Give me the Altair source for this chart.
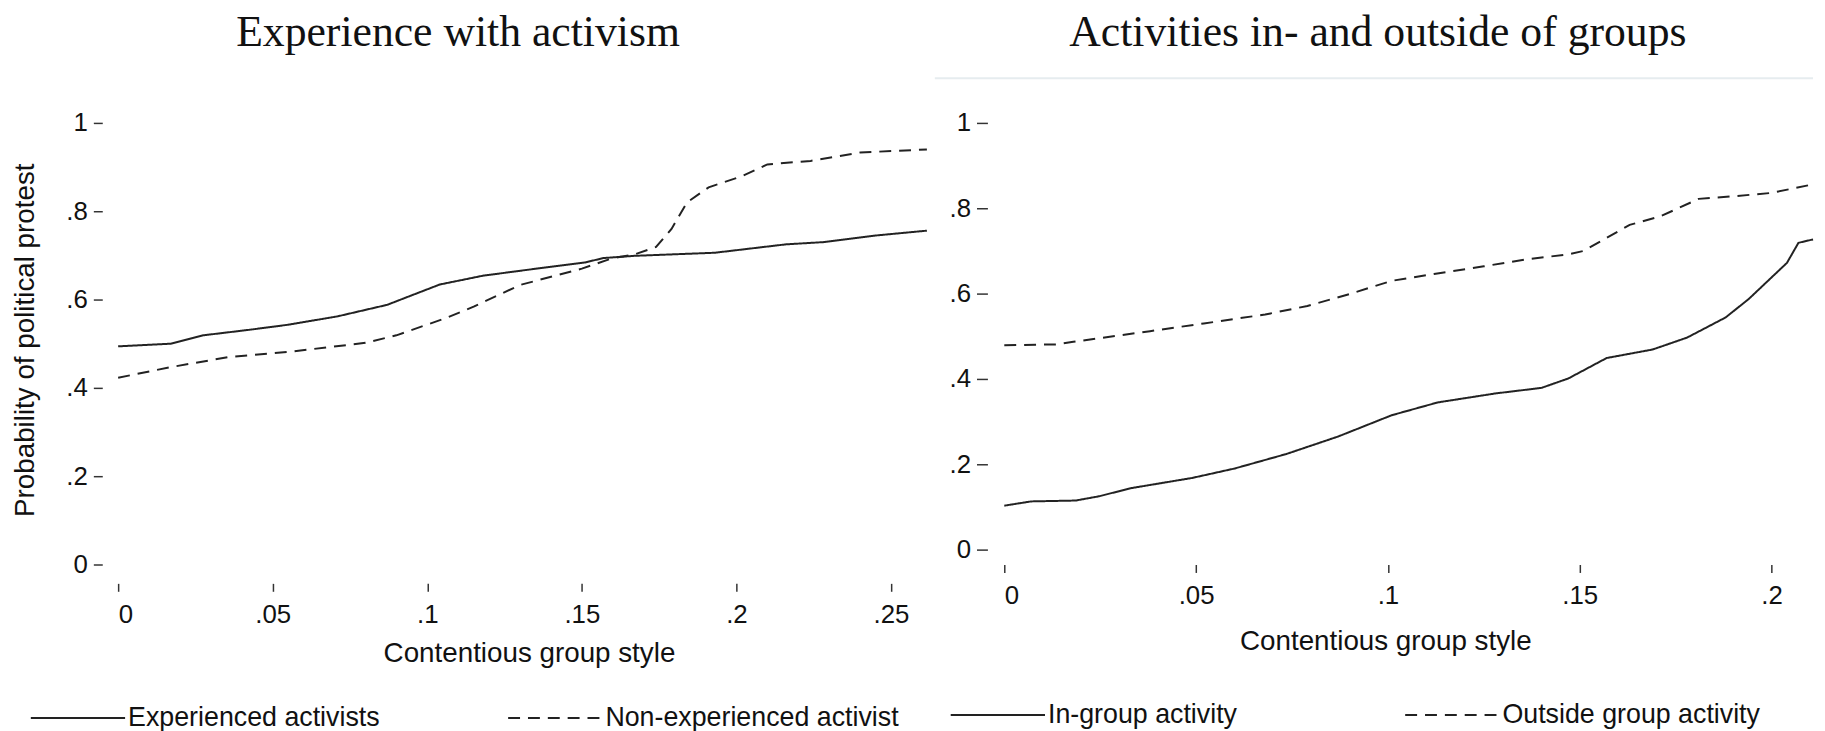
import altair as alt
import pandas as pd

# ---------------- data ----------------
left_title = "Experience with activism"
right_title = "Activities in- and outside of groups"
x_title = "Contentious group style"
y_title = "Probability of political protest"

left_names = ["Experienced activists", "Non-experienced activist"]
right_names = ["In-group activity", "Outside group activity"]

left_x_ticks = [0, 0.05, 0.1, 0.15, 0.2, 0.25]
right_x_ticks = [0, 0.05, 0.1, 0.15, 0.2]
y_ticks = [0, 0.2, 0.4, 0.6, 0.8, 1]

exp_x = [0, 0.017, 0.0275, 0.043, 0.055, 0.071, 0.087, 0.104, 0.118, 0.132,
         0.151, 0.157, 0.167, 0.193, 0.216, 0.228, 0.245, 0.2616]
exp_y = [0.494, 0.500, 0.519, 0.532, 0.543, 0.562, 0.588, 0.634, 0.654, 0.667,
         0.684, 0.694, 0.699, 0.706, 0.725, 0.730, 0.745, 0.756]

nexp_x = [0, 0.017, 0.036, 0.057, 0.080, 0.090, 0.106, 0.115, 0.130, 0.150,
          0.160, 0.167, 0.174, 0.179, 0.184, 0.191, 0.202, 0.210, 0.224, 0.240, 0.2616]
nexp_y = [0.423, 0.447, 0.470, 0.483, 0.502, 0.519, 0.558, 0.584, 0.633, 0.670,
          0.694, 0.702, 0.719, 0.760, 0.820, 0.854, 0.880, 0.906, 0.914, 0.933, 0.940]

in_x = [0, 0.007, 0.0186, 0.0247, 0.033, 0.049, 0.060, 0.0735, 0.087, 0.101, 0.113,
        0.128, 0.140, 0.147, 0.157, 0.169, 0.178, 0.188, 0.194, 0.204, 0.207, 0.2108]
in_y = [0.103, 0.113, 0.115, 0.125, 0.144, 0.168, 0.190, 0.224, 0.265, 0.315, 0.345,
        0.366, 0.379, 0.401, 0.449, 0.469, 0.497, 0.544, 0.587, 0.672, 0.719, 0.727]

out_x = [0, 0.0138, 0.018, 0.030, 0.038, 0.052, 0.068, 0.079, 0.090, 0.101, 0.112,
         0.125, 0.136, 0.147, 0.151, 0.163, 0.171, 0.181, 0.190, 0.200, 0.2108]
out_y = [0.479, 0.481, 0.487, 0.502, 0.512, 0.530, 0.551, 0.571, 0.599, 0.630, 0.646,
         0.664, 0.680, 0.692, 0.700, 0.761, 0.781, 0.822, 0.828, 0.836, 0.856]

left_df = pd.DataFrame({
    "x": exp_x + nexp_x,
    "y": exp_y + nexp_y,
    "series": [left_names[0]] * len(exp_x) + [left_names[1]] * len(nexp_x),
})
right_df = pd.DataFrame({
    "x": in_x + out_x,
    "y": in_y + out_y,
    "series": [right_names[0]] * len(in_x) + [right_names[1]] * len(out_x),
})

SANS = "Liberation Sans, Arial, sans-serif"
SERIF = "Liberation Serif, Times New Roman, serif"
INK = "#111111"
LINE = "#222222"

label_expr = ("datum.value == 0 ? '0' : datum.value == 1 ? '1' : "
              "replace(format(datum.value, '.2~f'), '0.', '.')")


def panel(df, names, title, title_dx, title_off, xmax, x_ticks, height, show_ytitle,
          x_off, y_off, y_tick, xt_x, xt_y, leg_x, leg_y, col_pad):
    y_axis_kw = dict(
        values=y_ticks, labelExpr=label_expr, domain=False, grid=False,
        offset=y_off, tickSize=y_tick, tickWidth=1.5, tickColor="#333333",
        labelPadding=6, labelFont=SANS, labelFontSize=26, labelColor=INK,
    )
    if show_ytitle:
        y_axis_kw.update(
            title=y_title, titleFont=SANS, titleFontSize=28,
            titleFontWeight="normal", titleColor=INK, titleAngle=-90,
            titleX=-77, titleY=height / 2 - 4, titleAlign="center",
            titleBaseline="middle",
        )
    else:
        y_axis_kw.update(title=None)

    x_axis = alt.Axis(
        values=x_ticks, labelExpr=label_expr, domain=False, grid=False,
        offset=x_off, tickSize=8, tickWidth=1.5, tickColor="#333333",
        labelPadding=10, labelFont=SANS, labelFontSize=26, labelColor=INK,
        title=x_title, titleFont=SANS, titleFontSize=28, titleFontWeight="normal",
        titleColor=INK, titleX=xt_x, titleY=xt_y, titleAlign="center",
        titleBaseline="middle",
    )

    return (
        alt.Chart(df)
        .mark_line(color=LINE, strokeWidth=2)
        .encode(
            x=alt.X("x:Q", scale=alt.Scale(domain=[0, xmax], nice=False, zero=False),
                    axis=x_axis),
            y=alt.Y("y:Q", scale=alt.Scale(domain=[0, 1], nice=False),
                    axis=alt.Axis(**y_axis_kw)),
            strokeDash=alt.StrokeDash(
                "series:N",
                scale=alt.Scale(domain=names, range=[[1, 0], [12, 8]]),
                legend=alt.Legend(
                    title=None, orient="none", legendX=leg_x, legendY=leg_y,
                    direction="horizontal", columns=2, gridAlign="all",
                    columnPadding=col_pad, symbolType="stroke", symbolSize=9025,
                    symbolStrokeWidth=2, symbolStrokeColor=LINE,
                    labelFont=SANS, labelFontSize=27, labelColor=INK,
                    labelOffset=2, labelLimit=0, padding=0,
                ),
            ),
            order="x:Q",
        )
        .properties(
            width=815, height=height,
            title=alt.TitleParams(
                text=title, font=SERIF, fontSize=44, fontWeight="normal",
                color=INK, anchor="middle", frame="group", dx=title_dx,
                offset=title_off,
            ),
        )
    )


left = panel(left_df, left_names, left_title, -65, 56, 0.2616, left_x_ticks, 445, True,
             19, 16, 9, 414, 71, -89, 551, 83)

right_lines = panel(right_df, right_names, right_title, -31, 23, 0.2108, right_x_ticks,
                    430, False, 15, 17, 11, 384, 78, -55, 548, 96)

# faint horizontal rule that runs across the top of the right-hand panel
top_rule = (
    alt.Chart(pd.DataFrame({"k": [0]}))
    .mark_rule(color="#e6ecef", strokeWidth=2)
    .encode(x=alt.value(-70), x2=alt.value(815), y=alt.value(-45))
)
right = alt.layer(right_lines, top_rule)

chart = (
    alt.hconcat(left, right, spacing=3)
    .resolve_scale(strokeDash="independent", x="independent", y="independent")
    .resolve_legend(strokeDash="independent")
    .properties(padding={"left": 3, "top": 0, "right": 0, "bottom": 0},
                background="white")
    .configure_view(stroke=None)
)

chart.save("out.html", embed_options={"renderer": "svg", "actions": False})
